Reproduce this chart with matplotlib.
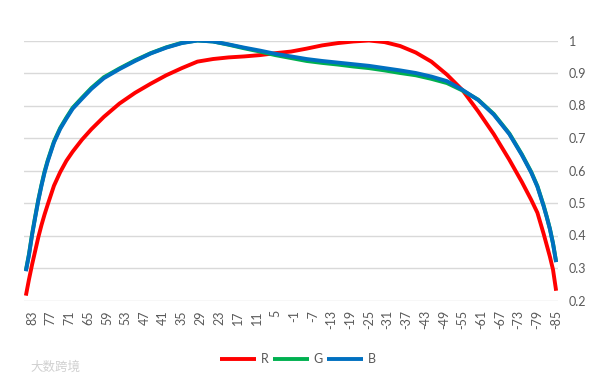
import matplotlib
matplotlib.use("Agg")
import matplotlib.pyplot as plt

angles = [85, 84, 83, 82, 81, 80, 79, 78, 76, 74, 72, 70, 67, 64, 60, 55, 50, 45, 40, 35,
          30, 25, 20, 15, 10, 5, 0, -5, -10, -15, -20, -25, -30, -35, -40, -45, -50, -55,
          -60, -65, -70, -74, -77, -79, -81, -82, -83, -84, -85]

r_vals = [0.215, 0.265, 0.311, 0.353, 0.395, 0.432, 0.465, 0.495, 0.553, 0.595, 0.630, 0.658,
          0.695, 0.727, 0.765, 0.806, 0.839, 0.867, 0.893, 0.915, 0.935, 0.943, 0.948, 0.951,
          0.955, 0.961, 0.966, 0.975, 0.985, 0.992, 0.997, 1.000, 0.995, 0.983, 0.963, 0.935,
          0.895, 0.847, 0.782, 0.712, 0.633, 0.565, 0.510, 0.470, 0.405, 0.370, 0.335, 0.295, 0.230]

g_vals = [0.293, 0.343, 0.405, 0.459, 0.511, 0.556, 0.597, 0.631, 0.689, 0.731, 0.763, 0.793,
          0.824, 0.854, 0.887, 0.914, 0.939, 0.961, 0.979, 0.993, 1.000, 0.997, 0.987, 0.976,
          0.966, 0.955, 0.946, 0.937, 0.931, 0.926, 0.920, 0.915, 0.908, 0.900, 0.893, 0.882,
          0.869, 0.846, 0.818, 0.774, 0.714, 0.650, 0.596, 0.552, 0.492, 0.458, 0.421, 0.376, 0.319]

b_vals = [0.290, 0.340, 0.402, 0.456, 0.508, 0.553, 0.594, 0.628, 0.686, 0.728, 0.760, 0.790,
          0.821, 0.851, 0.884, 0.912, 0.937, 0.960, 0.978, 0.992, 1.000, 0.997, 0.988, 0.978,
          0.969, 0.959, 0.951, 0.943, 0.937, 0.932, 0.927, 0.922, 0.915, 0.908, 0.900, 0.889,
          0.875, 0.848, 0.817, 0.772, 0.712, 0.648, 0.594, 0.550, 0.490, 0.456, 0.420, 0.375, 0.318]

x_ticks = list(range(83, -86, -6))
y_ticks = [0.2, 0.3, 0.4, 0.5, 0.6, 0.7, 0.8, 0.9, 1]
y_labels = ["0.2", "0.3", "0.4", "0.5", "0.6", "0.7", "0.8", "0.9", "1"]
series_names = ["R", "G", "B"]
colors = ["#FF0000", "#00B050", "#0070C0"]

plt.rcParams['font.family'] = ['Lato', 'DejaVu Sans']

W, H = 591, 382
fig = plt.figure(figsize=(W / 100, H / 100), dpi=100)
left, right = 24 / W, 558 / W
bottom, top = (H - 300.5) / H, (H - 40.5) / H
ax = fig.add_axes([left, bottom, right - left, top - bottom])

for name, vals, c in zip(series_names, [r_vals, g_vals, b_vals], colors):
    ax.plot(angles, vals, color=c, lw=2.8, label=name, solid_capstyle='butt',
            solid_joinstyle='round')

ax.set_xlim(85.6, -85.6)
ax.set_ylim(0.2, 1.0)
ax.set_xticks(x_ticks)
ax.set_xticklabels([str(t) for t in x_ticks], rotation=90, fontsize=9, color="#595959")
ax.set_yticks(y_ticks)
ax.set_yticklabels(y_labels, fontsize=9, color="#595959")
ax.yaxis.tick_right()
ax.tick_params(axis='both', length=0)
ax.tick_params(axis='x', pad=7)
ax.tick_params(axis='y', pad=8)
ax.grid(axis='y', color="#D9D9D9", lw=1)
ax.set_axisbelow(True)
for s in ax.spines.values():
    s.set_visible(False)

fig.legend(loc='center', bbox_to_anchor=(298 / W, 1 - 359 / H), ncol=3, frameon=False,
           fontsize=9, handlelength=2.9, handletextpad=0.35, columnspacing=0.35,
           labelcolor="#595959")

fig.text(30 / W, 1 - 367 / H, "大数跨境", fontsize=9, color="#D0D0D0",
         family=['Noto Sans CJK SC', 'DejaVu Sans'], va='center', ha='left')

fig.savefig("out.png", dpi=100)
